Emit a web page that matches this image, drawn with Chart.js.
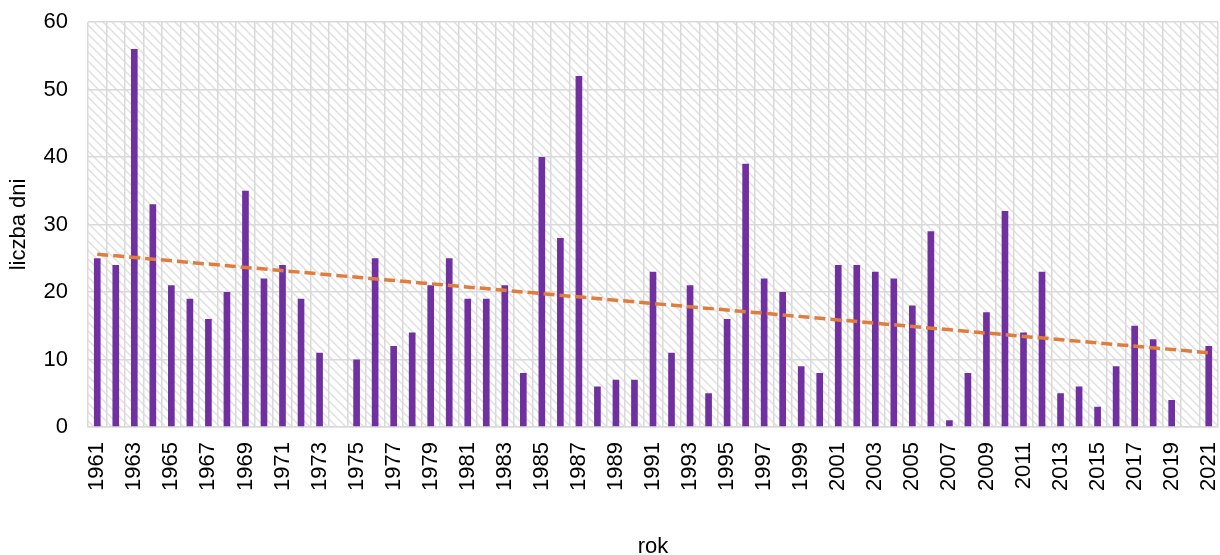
<!DOCTYPE html>
<html>
<head>
<meta charset="utf-8">
<script src="https://cdn.jsdelivr.net/npm/chart.js@4/dist/chart.umd.min.js"></script>
<style>
  html, body { margin: 0; padding: 0; background: #fff; }
  #wrap { width: 1220px; height: 555px; }
</style>
</head>
<body>
<div id="wrap"><canvas id="chart"></canvas></div>
<script>
// years 1961..2021
const years = [
  1961, 1962, 1963, 1964, 1965, 1966, 1967, 1968, 1969, 1970,
  1971, 1972, 1973, 1974, 1975, 1976, 1977, 1978, 1979, 1980,
  1981, 1982, 1983, 1984, 1985, 1986, 1987, 1988, 1989, 1990,
  1991, 1992, 1993, 1994, 1995, 1996, 1997, 1998, 1999, 2000,
  2001, 2002, 2003, 2004, 2005, 2006, 2007, 2008, 2009, 2010,
  2011, 2012, 2013, 2014, 2015, 2016, 2017, 2018, 2019, 2020,
  2021
];

// liczba dni per year
const days = [
  25, 24, 56, 33, 21, 19, 16, 20, 35, 22,
  24, 19, 11, 0, 10, 25, 12, 14, 21, 25,
  19, 19, 21, 8, 40, 28, 52, 6, 7, 7,
  23, 11, 21, 5, 16, 39, 22, 20, 9, 8,
  24, 24, 23, 22, 18, 29, 1, 8, 17, 32,
  14, 23, 5, 6, 3, 9, 15, 13, 4, 0,
  12
];

// linear trend, value at first and last year
const trendEnds = [25.6, 11.0];

const yTicks = [0, 10, 20, 30, 40, 50, 60];

const trendData = years.map((y, i) =>
  i === 0 ? trendEnds[0] : (i === years.length - 1 ? trendEnds[1] : null));

const font = { family: "Liberation Sans", size: 22 };

// hatched background of the plot area
const hatch = {
  id: "hatch",
  beforeDraw(chart) {
    const { ctx, chartArea: a } = chart;
    const s = 9;
    const p = document.createElement("canvas");
    p.width = s;
    p.height = s;
    const pc = p.getContext("2d");
    pc.strokeStyle = "#e0e0e0";
    pc.lineWidth = 1.5;
    pc.beginPath();
    pc.moveTo(-1, -1);
    pc.lineTo(s + 1, s + 1);
    pc.moveTo(-1, s - 1);
    pc.lineTo(1, s + 1);
    pc.moveTo(s - 1, -1);
    pc.lineTo(s + 1, 1);
    pc.stroke();
    ctx.save();
    ctx.fillStyle = ctx.createPattern(p, "repeat");
    ctx.fillRect(a.left, a.top, a.right - a.left, a.bottom - a.top);
    ctx.restore();
  }
};

// fixed axis boxes so the plot area lands where the original has it
const fitX = (s) => {
  s.paddingLeft = 0;
  s.paddingRight = 0;
  s.height = 128;
};
const fitY = (s) => {
  s.paddingTop = 0;
  s.paddingBottom = 0;
  s.width = 88;
};

const ctx = document.getElementById("chart").getContext("2d");

new Chart(ctx, {
  type: "bar",
  data: {
    labels: years.map(String),
    datasets: [
      {
        type: "line",
        label: "trend",
        data: trendData,
        spanGaps: true,
        borderColor: "#e07d3c",
        borderWidth: 3.5,
        borderDash: [11, 5],
        pointRadius: 0,
        fill: false,
        order: 0,
      },
      {
        label: "liczba dni",
        data: days,
        backgroundColor: "#7030a0",
        barPercentage: 0.36,
        categoryPercentage: 1,
        order: 1,
      },
    ],
  },
  options: {
    responsive: true,
    maintainAspectRatio: false,
    animation: false,
    layout: { padding: { top: 22, right: 2, left: 0, bottom: 0 } },
    plugins: {
      legend: { display: false },
      tooltip: { enabled: false },
    },
    scales: {
      x: {
        offset: true,
        afterFit: fitX,
        grid: { offset: true, color: "#d9d9d9", lineWidth: 1.5, drawTicks: false },
        border: { color: "#d9d9d9", width: 1.5 },
        ticks: {
          autoSkip: false,
          maxRotation: 90,
          minRotation: 90,
          padding: 15,
          color: "#000",
          font: font,
          callback: (v, i) => (i % 2 === 0 ? years[i] : ""),
        },
        title: {
          display: true,
          text: "rok",
          color: "#000",
          font: font,
          padding: { top: 0, bottom: -5 },
        },
      },
      y: {
        min: 0,
        max: 60,
        afterFit: fitY,
        afterBuildTicks: (s) => { s.ticks = yTicks.map((v) => ({ value: v })); },
        grid: { color: "#d9d9d9", lineWidth: 1.5, drawTicks: false },
        border: { display: false },
        ticks: {
          padding: 20,
          color: "#000",
          font: font,
        },
        title: {
          display: true,
          text: "liczba dni",
          color: "#000",
          font: font,
          padding: { top: 6, bottom: 0 },
        },
      },
    },
  },
  plugins: [hatch],
});
</script>
</body>
</html>
